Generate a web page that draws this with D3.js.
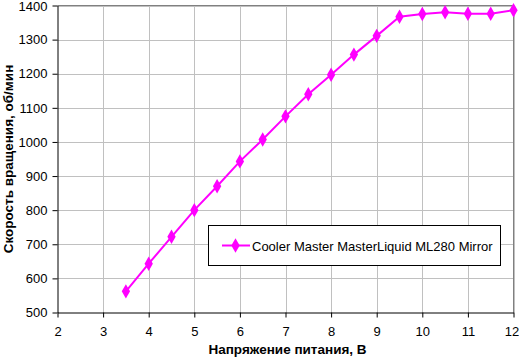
<!DOCTYPE html>
<html><head><meta charset="utf-8">
<script src="https://cdn.jsdelivr.net/npm/d3@7"></script>
<style>body{margin:0;background:#fff}svg{display:block}text{font-family:"Liberation Sans",Arial,sans-serif}</style>
</head><body><svg id="c" width="519" height="357"></svg>
<script>
const voltages = [3.5,4,4.5,5,5.5,6,6.5,7,7.5,8,8.5,9,9.5,10,10.5,11,11.5,12];
const rpm = [562,643,722,800,870,943,1007,1075,1140,1197,1256,1311,1367,1375,1380,1376,1376,1386];
const xTicks = [2,3,4,5,6,7,8,9,10,11,12];
const yTicks = [500,600,700,800,900,1000,1100,1200,1300,1400];
const seriesName = "Cooler Master MasterLiquid ML280 Mirror";
const xTitle = "Напряжение питания, В";
const yTitle = "Скорость вращения, об/мин";

const svg = d3.select("#c");
const L=57.5, R=513.5, T=5.5, B=312.5;
const x = d3.scaleLinear().domain([2,12]).range([L,R]);
const y = d3.scaleLinear().domain([500,1400]).range([B,T]);

// grid
svg.append("g").selectAll("line").data(xTicks.slice(1)).join("line")
  .attr("x1",d=>Math.round(x(d))+0.5).attr("x2",d=>Math.round(x(d))+0.5).attr("y1",T).attr("y2",B)
  .attr("stroke","#c0c0c0");
svg.append("g").selectAll("line").data(yTicks.slice(1)).join("line")
  .attr("y1",d=>Math.round(y(d))+0.5).attr("y2",d=>Math.round(y(d))+0.5).attr("x1",L).attr("x2",R)
  .attr("stroke","#c0c0c0");
// top/right border
svg.append("path").attr("d",`M${L},${T}H${R}V${B}`).attr("fill","none").attr("stroke","#808080");

// axes
const xa = svg.append("g").attr("transform",`translate(0,${B})`)
  .call(d3.axisBottom(x).tickValues(xTicks).tickFormat(d3.format("d")).tickSize(5).tickSizeOuter(0).tickPadding(9));
const ya = svg.append("g").attr("transform",`translate(${L},0)`)
  .call(d3.axisLeft(y).tickValues(yTicks).tickFormat(d3.format("d")).tickSize(5).tickSizeOuter(0).tickPadding(5));
[xa,ya].forEach(a=>{a.selectAll("path,line").attr("stroke","#000");
  a.selectAll("text").attr("font-size","13px").attr("fill","#000").style("font-family",'"Liberation Sans",Arial,sans-serif');});
xa.selectAll(".tick text").filter(d=>d===12).attr("dx","-2");
ya.selectAll(".tick text").filter(d=>d===1400).attr("dy","0.42em");

// line
const line = d3.line().x((d,i)=>x(voltages[i])).y(d=>y(d));
svg.append("path").datum(rpm).attr("d",line).attr("fill","none").attr("stroke","#ff00ff").attr("stroke-width",2);
const diamond = d3.symbol().type(d3.symbolDiamond).size(60);
svg.append("g").selectAll("path").data(rpm).join("path")
  .attr("transform",(d,i)=>`translate(${x(voltages[i])},${y(d)})`).attr("d",diamond).attr("fill","#ff00ff");

// titles
svg.append("text").attr("x",287.5).attr("y",354).attr("text-anchor","middle")
  .attr("font-size","13.5px").attr("font-weight","bold").text(xTitle);
svg.append("text").attr("transform","translate(13,159) rotate(-90)").attr("text-anchor","middle")
  .attr("font-size","13.5px").attr("font-weight","bold").text(yTitle);

// legend
const lg = svg.append("g");
lg.append("rect").attr("x",208.5).attr("y",225.5).attr("width",292).attr("height",40).attr("fill","#fff").attr("stroke","#000");
lg.append("line").attr("x1",222).attr("x2",250).attr("y1",245.5).attr("y2",245.5).attr("stroke","#ff00ff").attr("stroke-width",2);
lg.append("path").attr("transform","translate(235.5,245.5)").attr("d",diamond).attr("fill","#ff00ff");
lg.append("text").attr("x",252).attr("y",250.5).attr("font-size","13px").text(seriesName);
</script></body></html>
